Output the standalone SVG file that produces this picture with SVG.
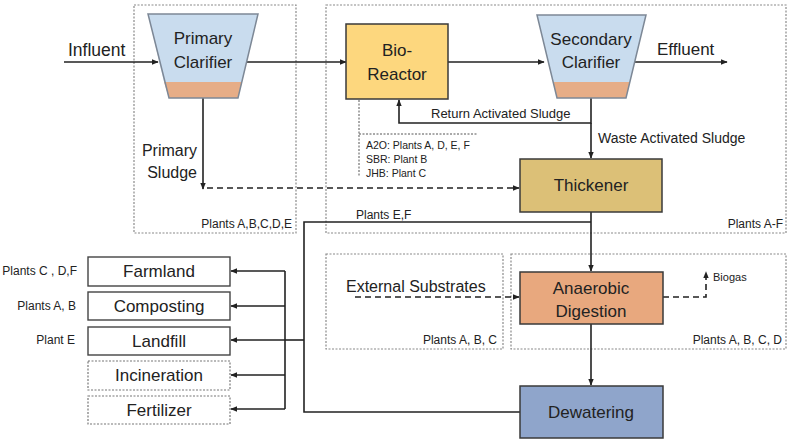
<svg xmlns="http://www.w3.org/2000/svg" width="791" height="443" viewBox="0 0 791 443">
<defs>
<marker id="ah" viewBox="0 0 10 10" refX="9" refY="5" markerWidth="7" markerHeight="7" markerUnits="userSpaceOnUse" orient="auto"><path d="M0,1 L10,5 L0,9 Z" fill="#222"/></marker>
<style>
.grp{fill:none;stroke:#8a8a8a;stroke-width:1.2;stroke-dasharray:2,1.5}
.t{font-family:"Liberation Sans",Arial,sans-serif;fill:#222}
.big{font-size:17px}
.mid{font-size:14px}
.sm{font-size:12px}
.xs{font-size:10.5px}
.ln{fill:none;stroke:#222;stroke-width:1.6}
.dash{fill:none;stroke:#222;stroke-width:1.6;stroke-dasharray:6,4}
.box{stroke:#3a3a3a;stroke-width:1.5}
.disp{fill:#fff;stroke:#444;stroke-width:1.4}
.dispd{fill:#fff;stroke:#777;stroke-width:1.2;stroke-dasharray:2,1.5}
.clar{fill:#c9dcee}
.sl{fill:#e6ad87}
.cout{fill:none;stroke:#7d8896;stroke-width:1.5}
</style>
</defs>
<rect width="791" height="443" fill="#fff"/>

<g id="groups">
<rect class="grp" x="134" y="5" width="162" height="228"/>
<rect class="grp" x="326" y="5" width="460" height="228"/>
<rect class="grp" x="326" y="254" width="177" height="95"/>
<rect class="grp" x="511" y="254" width="275" height="95"/>
<text class="t sm" x="292" y="228" text-anchor="end">Plants A,B,C,D,E</text>
<text class="t sm" x="783" y="228" text-anchor="end">Plants A-F</text>
<text class="t sm" x="497" y="344" text-anchor="end">Plants A, B, C</text>
<text class="t sm" x="782" y="344" text-anchor="end">Plants A, B, C, D</text>
</g>

<g id="connectors">
<line class="ln" x1="64" y1="62" x2="158" y2="62" marker-end="url(#ah)"/>
<line class="ln" x1="245" y1="62" x2="346" y2="62" marker-end="url(#ah)"/>
<line class="ln" x1="448" y1="62" x2="544" y2="62" marker-end="url(#ah)"/>
<line class="ln" x1="633" y1="62" x2="727" y2="62" marker-end="url(#ah)"/>
<polyline class="ln" points="591,98 591,123 399,123 399,100" marker-end="url(#ah)"/>
<line class="ln" x1="591" y1="123" x2="591" y2="158" marker-end="url(#ah)"/>
<line class="ln" x1="203" y1="98" x2="203" y2="189" marker-end="url(#ah)"/>
<line class="dash" x1="207" y1="188" x2="519" y2="188" marker-end="url(#ah)"/>
<line class="ln" x1="591" y1="212" x2="591" y2="271" marker-end="url(#ah)"/>
<polyline class="ln" points="591,222 304,222 304,412 520,412"/>
<line class="ln" x1="304" y1="340" x2="285" y2="340"/>
<line class="ln" x1="285" y1="271" x2="285" y2="409"/>
<line class="ln" x1="285" y1="271" x2="231" y2="271" marker-end="url(#ah)"/>
<line class="ln" x1="285" y1="306" x2="231" y2="306" marker-end="url(#ah)"/>
<line class="ln" x1="285" y1="340" x2="231" y2="340" marker-end="url(#ah)"/>
<line class="ln" x1="285" y1="375" x2="231" y2="375" marker-end="url(#ah)"/>
<line class="ln" x1="285" y1="409" x2="231" y2="409" marker-end="url(#ah)"/>
<line class="dash" x1="355" y1="297" x2="519" y2="297" marker-end="url(#ah)"/>
<polyline class="dash" points="663,297 706,297 706,272" marker-end="url(#ah)"/>
<line class="ln" x1="591" y1="324" x2="591" y2="385" marker-end="url(#ah)"/>
<polyline fill="none" stroke="#555" stroke-width="1" stroke-dasharray="2,1.5" points="359,100 359,176"/>
<line stroke="#555" stroke-width="1" stroke-dasharray="2,1.5" x1="359" y1="134" x2="477" y2="134"/>
</g>

<g id="labels">
<text class="t" font-size="17.5" x="68" y="56">Influent</text>
<text class="t big" x="657" y="55">Effluent</text>
<text class="t" font-size="13" x="431" y="118">Return Activated Sludge</text>
<text class="t mid" x="598" y="143">Waste Activated Sludge</text>
<text class="t" font-size="16" x="197" y="156" text-anchor="end">Primary</text>
<text class="t" font-size="16" x="197" y="178" text-anchor="end">Sludge</text>
<text class="t xs" x="366" y="149">A2O: Plants A, D, E, F</text>
<text class="t xs" x="366" y="163">SBR: Plant B</text>
<text class="t xs" x="366" y="177">JHB: Plant C</text>
<text class="t sm" x="356" y="219">Plants E,F</text>
<text class="t" font-size="16" x="346" y="292">External Substrates</text>
<text class="t" font-size="11" x="713" y="281">Biogas</text>
<text class="t sm" x="77" y="275" text-anchor="end">Plants  C , D,F</text>
<text class="t sm" x="76" y="310" text-anchor="end">Plants  A, B</text>
<text class="t sm" x="75" y="344" text-anchor="end">Plant E</text>
</g>

<g id="primary-clarifier">
<polygon class="clar" points="148,14 258,14 242,82 164,82"/>
<polygon class="sl" points="164,82 242,82 238,98 169,98"/>
<polygon class="cout" points="148,14 258,14 238,98 169,98"/>
<text class="t big" x="203" y="44" text-anchor="middle">Primary</text>
<text class="t big" x="203" y="68" text-anchor="middle">Clarifier</text>
</g>

<g id="bio-reactor">
<rect class="box" x="346" y="24" width="102" height="75" fill="#fdd77e"/>
<text class="t big" x="397" y="56" text-anchor="middle">Bio-</text>
<text class="t big" x="397" y="80" text-anchor="middle">Reactor</text>
</g>

<g id="secondary-clarifier">
<polygon class="clar" points="537,15 646,15 630,82 553,82"/>
<polygon class="sl" points="553,82 630,82 626,98 557,98"/>
<polygon class="cout" points="537,15 646,15 626,98 557,98"/>
<text class="t big" x="591" y="45" text-anchor="middle">Secondary</text>
<text class="t big" x="591" y="68" text-anchor="middle">Clarifier</text>
</g>

<g id="thickener">
<rect class="box" x="520" y="159" width="142" height="53" fill="#dcc077"/>
<text class="t big" x="591" y="191" text-anchor="middle">Thickener</text>
</g>

<g id="anaerobic-digestion">
<rect class="box" x="520" y="272" width="143" height="52" fill="#e8a87e"/>
<text class="t big" x="591" y="294" text-anchor="middle">Anaerobic</text>
<text class="t big" x="591" y="317" text-anchor="middle">Digestion</text>
</g>

<g id="dewatering">
<rect class="box" x="520" y="386" width="143" height="52" fill="#8fa5cb"/>
<text class="t big" x="591" y="418" text-anchor="middle">Dewatering</text>
</g>

<g id="farmland"><rect class="disp" x="88" y="257" width="142" height="29"/><text class="t big" x="159" y="277" text-anchor="middle">Farmland</text></g>
<g id="composting"><rect class="disp" x="88" y="292" width="142" height="28"/><text class="t big" x="159" y="312" text-anchor="middle">Composting</text></g>
<g id="landfill"><rect class="disp" x="88" y="327" width="142" height="28"/><text class="t big" x="159" y="347" text-anchor="middle">Landfill</text></g>
<g id="incineration"><rect class="dispd" x="88" y="361" width="142" height="29"/><text class="t big" x="159" y="381" text-anchor="middle">Incineration</text></g>
<g id="fertilizer"><rect class="dispd" x="88" y="396" width="142" height="28"/><text class="t big" x="159" y="416" text-anchor="middle">Fertilizer</text></g>
</svg>
